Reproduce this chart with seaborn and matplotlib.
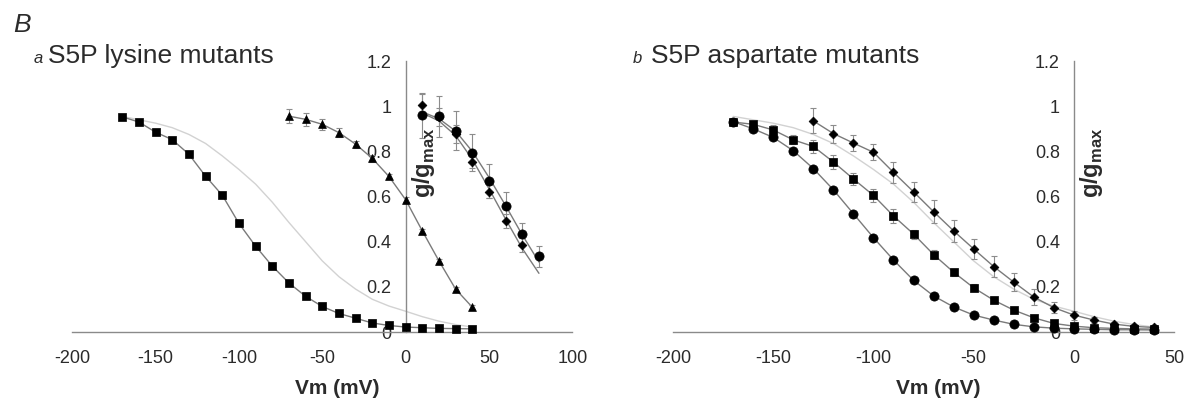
"""Normalised conductance vs. membrane potential for S5P lysine / aspartate mutants."""

import matplotlib

matplotlib.use("Agg")
import matplotlib.pyplot as plt
import seaborn as sns

# ---- panel a: S5P lysine mutants -------------------------------------------
lys_sq_mv = [-170, -160, -150, -140, -130, -120, -110, -100, -90, -80, -70,
             -60, -50, -40, -30, -20, -10, 0, 10, 20, 30, 40]
lys_sq_g = [0.953, 0.930, 0.885, 0.852, 0.787, 0.690, 0.606, 0.481, 0.380,
            0.292, 0.217, 0.158, 0.113, 0.082, 0.061, 0.040, 0.029, 0.022,
            0.019, 0.016, 0.015, 0.014]

lys_tri_mv = [-70, -60, -50, -40, -30, -20, -10, 0, 10, 20, 30, 40]
lys_tri_g = [0.956, 0.942, 0.920, 0.883, 0.832, 0.769, 0.689, 0.586, 0.448,
             0.315, 0.190, 0.110]
lys_tri_err = [0.03, 0.03, 0.025, 0.02, 0.015, 0.015, 0.01, 0.01, 0.01, 0.01,
               0.01, 0.01]

lys_circ_mv = [10, 20, 30, 40, 50, 60, 70, 80]
lys_circ_g = [0.960, 0.955, 0.892, 0.795, 0.670, 0.556, 0.433, 0.335]
lys_circ_err = [0.10, 0.09, 0.085, 0.08, 0.075, 0.065, 0.05, 0.045]
lys_circ_fit = [0.975, 0.945, 0.890, 0.800, 0.685, 0.560, 0.430, 0.310]

lys_dia_mv = [10, 20, 30, 40, 50, 60, 70]
lys_dia_g = [1.004, 0.951, 0.875, 0.755, 0.622, 0.492, 0.385]
lys_dia_err = [0.05, 0.04, 0.04, 0.03, 0.03, 0.03, 0.03]
lys_dia_fit_mv = [10, 20, 30, 40, 50, 60, 70, 80]
lys_dia_fit = [0.970, 0.935, 0.870, 0.765, 0.635, 0.500, 0.370, 0.260]

# ---- wild-type reference curve (light grey, both panels) --------------------
wt_mv = [-170, -160, -150, -140, -130, -120, -110, -100, -90, -80, -70, -60,
         -50, -40, -30, -20, -10, 0, 10, 20, 30, 40, 50]
wt_g = [0.955, 0.940, 0.925, 0.905, 0.875, 0.835, 0.780, 0.720, 0.655, 0.575,
        0.485, 0.400, 0.315, 0.245, 0.190, 0.145, 0.115, 0.092, 0.068, 0.048,
        0.033, 0.022, 0.015]

# ---- panel b: S5P aspartate mutants -----------------------------------------
asp_mv = [-170, -160, -150, -140, -130, -120, -110, -100, -90, -80, -70, -60,
          -50, -40, -30, -20, -10, 0, 10, 20, 30, 40]
asp_circ_g = [0.932, 0.900, 0.862, 0.803, 0.724, 0.630, 0.524, 0.418, 0.319,
              0.229, 0.160, 0.111, 0.075, 0.053, 0.034, 0.023, 0.017, 0.014,
              0.012, 0.010, 0.010, 0.009]
asp_sq_g = [0.930, 0.920, 0.895, 0.851, 0.822, 0.753, 0.678, 0.605, 0.514,
            0.434, 0.343, 0.265, 0.196, 0.141, 0.097, 0.063, 0.038, 0.026,
            0.019, 0.016, 0.014, 0.013]
asp_sq_err = [0.01, 0.015, 0.02, 0.02, 0.03, 0.03, 0.025, 0.03, 0.03, 0.02,
              0.02, 0.015, 0.015, 0.01, 0.01, 0.01, 0.01, 0.01, 0.01, 0.01,
              0.01, 0.01]

asp_dia_mv = [-130, -120, -110, -100, -90, -80, -70, -60, -50, -40, -30, -20,
              -10, 0, 10, 20, 30, 40]
asp_dia_g = [0.935, 0.879, 0.837, 0.796, 0.707, 0.621, 0.533, 0.448, 0.368,
             0.290, 0.221, 0.155, 0.108, 0.075, 0.053, 0.035, 0.025, 0.020]
asp_dia_err = [0.055, 0.04, 0.035, 0.035, 0.045, 0.045, 0.05, 0.05, 0.045,
               0.045, 0.04, 0.035, 0.025, 0.02, 0.015, 0.01, 0.01, 0.01]

y_ticks = [0, 0.2, 0.4, 0.6, 0.8, 1.0, 1.2]
y_tick_labels = ["0", "0.2", "0.4", "0.6", "0.8", "1", "1.2"]

FIT = "#7a7a7a"
WT = "#d2d2d2"
AXIS = "#8a8a8a"
TEXT = "#2b2b2b"

sns.set_theme(style="white")
plt.rcParams["font.family"] = ["Liberation Sans", "DejaVu Sans"]
plt.rcParams["mathtext.fontset"] = "custom"
plt.rcParams["mathtext.bf"] = "Liberation Sans:bold"
plt.rcParams["mathtext.rm"] = "Liberation Sans"


def _curve(ax, x, y, color=FIT, lw=1.0):
    sns.lineplot(x=x, y=y, color=color, lw=lw, sort=False, ax=ax, zorder=2)


def _marks(ax, x, y, marker, size, err=None):
    if err is not None:
        ax.errorbar(x, y, yerr=err, fmt="none", ecolor="#8c8c8c", elinewidth=0.8,
                    capsize=2, capthick=0.8, zorder=2)
    sns.scatterplot(x=x, y=y, marker=marker, s=size, color="black",
                    edgecolor="black", linewidth=0.5, ax=ax, zorder=3, clip_on=False)


def _style(ax, xlim, xticks, ylabel_x):
    ax.set_xlim(*xlim)
    ax.set_ylim(0, 1.2)
    for side in ("top", "right"):
        ax.spines[side].set_visible(False)
    ax.spines["left"].set_position(("data", 0))
    for side in ("left", "bottom"):
        ax.spines[side].set_color(AXIS)
        ax.spines[side].set_linewidth(1.0)
    ax.set_xticks(xticks)
    ax.set_xticklabels([str(t) for t in xticks])
    ax.set_yticks(y_ticks)
    ax.set_yticklabels(y_tick_labels)
    ax.tick_params(axis="both", direction="out", length=4, width=1.0, color=AXIS,
                   labelcolor=TEXT, labelsize=13)
    ax.tick_params(axis="x", pad=9)
    ax.tick_params(axis="y", pad=6)
    ax.set_ylabel("")
    ax.set_xlabel("Vm (mV)", fontsize=15, fontweight="bold", color=TEXT)
    ax.xaxis.label.set_va("center")
    ax.xaxis.set_label_coords(0.53, -0.21)
    ax.text(ylabel_x, 0.75, r"$\mathbf{g/g}_{\mathbf{max}}$", rotation=90,
            ha="center", va="center", fontsize=17, color=TEXT)
    ax.patch.set_alpha(0)


fig = plt.figure(figsize=(11.91, 3.99), dpi=100)
ax_a = fig.add_axes([0.0607, 0.1679, 0.4198, 0.679])
ax_b = fig.add_axes([0.5651, 0.1679, 0.4207, 0.679])

# panel a
_curve(ax_a, wt_mv[:-1], wt_g[:-1], color=WT)
_curve(ax_a, lys_sq_mv, lys_sq_g)
_curve(ax_a, lys_tri_mv, lys_tri_g)
_curve(ax_a, lys_circ_mv, lys_circ_fit)
_curve(ax_a, lys_dia_fit_mv, lys_dia_fit)
_marks(ax_a, lys_sq_mv, lys_sq_g, "s", 30)
_marks(ax_a, lys_tri_mv, lys_tri_g, "^", 32, lys_tri_err)
_marks(ax_a, lys_circ_mv, lys_circ_g, "o", 44, lys_circ_err)
_marks(ax_a, lys_dia_mv, lys_dia_g, "D", 20, lys_dia_err)
_style(ax_a, (-200, 100), [-200, -150, -100, -50, 0, 50, 100], 10.5)

# panel b
_curve(ax_b, wt_mv[:-1], wt_g[:-1], color=WT)
_curve(ax_b, asp_mv, asp_circ_g)
_curve(ax_b, asp_mv, asp_sq_g)
_curve(ax_b, asp_dia_mv, asp_dia_g)
_marks(ax_b, asp_mv, asp_circ_g, "o", 44)
_marks(ax_b, asp_mv, asp_sq_g, "s", 38, asp_sq_err)
_marks(ax_b, asp_dia_mv, asp_dia_g, "D", 20, asp_dia_err)
_style(ax_b, (-200, 50), [-200, -150, -100, -50, 0, 50], 9)

# panel headings
fig.text(0.0107, 0.9206, "B", fontsize=19, style="italic", color=TEXT, va="baseline")
fig.text(0.0285, 0.842, "a", fontsize=12, style="italic", color=TEXT, va="baseline")
fig.text(0.0403, 0.842, "S5P lysine mutants", fontsize=19, color=TEXT, va="baseline")
fig.text(0.5315, 0.842, "b", fontsize=12, style="italic", color=TEXT, va="baseline")
fig.text(0.547, 0.842, "S5P aspartate mutants", fontsize=19, color=TEXT, va="baseline")

fig.savefig("out.png", dpi=100, facecolor="white")
